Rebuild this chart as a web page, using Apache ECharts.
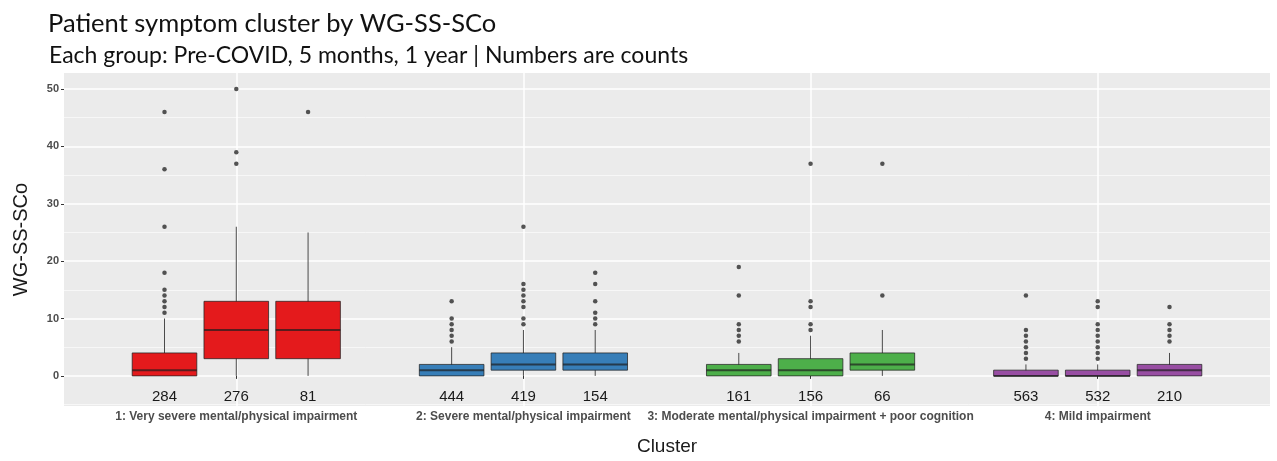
<!DOCTYPE html>
<html>
<head>
<meta charset="utf-8">
<script src="https://cdn.jsdelivr.net/npm/echarts@6/dist/echarts.min.js"></script>
<style>
html,body{margin:0;padding:0;background:#fff;}
#c{width:1277px;height:461px;}
</style>
</head>
<body>
<div id="c"></div>
<script>
// ---- data ----
const clusters = [
  '1: Very severe mental/physical impairment',
  '2: Severe mental/physical impairment',
  '3: Moderate mental/physical impairment + poor cognition',
  '4: Mild impairment'
];
const periods = ['Pre-COVID', '5 months', '1 year'];
// per box, ordered cluster by cluster, each cluster: Pre-COVID, 5 months, 1 year
const whiskerLow  = [0, 0, 0,   0, 0, 0,   0, 0, 0,   0, 0, 0];
const q1          = [0, 3, 3,   0, 1, 1,   0, 0, 1,   0, 0, 0];
const medians     = [1, 8, 8,   1, 2, 2,   1, 1, 2,   0, 0, 1];
const q3          = [4, 13, 13, 2, 4, 4,   2, 3, 4,   1, 1, 2];
const whiskerHigh = [10, 26, 25, 5, 8, 8,  4, 7, 8,   2, 2, 4];
const counts      = [284, 276, 81, 444, 419, 154, 161, 156, 66, 563, 532, 210];
const outliers = [
  [11, 12, 13, 14, 15, 18, 26, 36, 46],
  [37, 39, 50],
  [46],
  [6, 7, 8, 9, 10, 13],
  [9, 10, 12, 13, 14, 15, 16, 26],
  [9, 10, 11, 13, 16, 18],
  [6, 7, 8, 9, 14, 19],
  [8, 9, 12, 13, 37],
  [14, 37],
  [3, 4, 5, 6, 7, 8, 14],
  [3, 4, 5, 6, 7, 8, 9, 12, 13],
  [6, 7, 8, 9, 12]
];
const xTicks = [1, 2, 3, 4];
const yTicks = [0, 10, 20, 30, 40, 50];
const yMinorTicks = [-5, 5, 15, 25, 35, 45];

// ---- styling ----
const clusterColors = ['#E41A1C', '#377EB8', '#4DAF4A', '#984EA3'];
const DODGE = 0.25;
const BOX_W = 0.225;
const COUNT_Y = -3.7;

function boxX(i) {
  const g = Math.floor(i / periods.length) + 1;
  const p = i % periods.length;
  return g + (p - 1) * DODGE;
}

const boxData = counts.map((n, i) => [boxX(i), whiskerLow[i], q1[i], medians[i], q3[i], whiskerHigh[i], Math.floor(i / periods.length)]);
const outlierData = [];
outliers.forEach((arr, i) => arr.forEach(v => outlierData.push([boxX(i), v])));
const countData = counts.map((n, i) => [boxX(i), COUNT_Y, n]);

function renderBox(params, api) {
  const x = api.value(0);
  const lo = api.coord([x, api.value(1)]);
  const b1 = api.coord([x, api.value(2)]);
  const md = api.coord([x, api.value(3)]);
  const b3 = api.coord([x, api.value(4)]);
  const hi = api.coord([x, api.value(5)]);
  const w = api.size([BOX_W, 0])[0];
  const color = clusterColors[api.value(6)];
  return {
    type: 'group',
    children: [
      { type: 'line', shape: { x1: lo[0], y1: lo[1], x2: hi[0], y2: hi[1] },
        style: { stroke: '#4a4a4a', lineWidth: 1 } },
      { type: 'rect', shape: { x: b3[0] - w / 2, y: b3[1], width: w, height: Math.max(b1[1] - b3[1], 1) },
        style: { fill: color, stroke: 'rgba(35,35,35,0.75)', lineWidth: 1 } },
      { type: 'line', shape: { x1: md[0] - w / 2, y1: md[1], x2: md[0] + w / 2, y2: md[1] },
        style: { stroke: 'rgba(30,30,30,0.7)', lineWidth: 2 } }
    ]
  };
}

function renderCount(params, api) {
  const p = api.coord([api.value(0), api.value(1)]);
  return {
    type: 'text',
    x: p[0], y: p[1],
    style: { text: String(api.value(2)), fill: '#1a1a1a', font: '15px "Liberation Sans", Arial, sans-serif',
      align: 'center', verticalAlign: 'middle' }
  };
}

const chart = echarts.init(document.getElementById('c'), null, { renderer: 'canvas' });
chart.setOption({
  backgroundColor: '#ffffff',
  animation: false,
  title: [
    { text: 'Patient symptom cluster by WG-SS-SCo', left: 43, top: 6,
      textStyle: { fontFamily: 'Lato', fontWeight: 'normal', fontSize: 25.5, color: '#111' } },
    { text: 'Each group: Pre-COVID, 5 months, 1 year | Numbers are counts', left: 44, top: 39,
      textStyle: { fontFamily: 'Lato', fontWeight: 'normal', fontSize: 23, color: '#111' } }
  ],
  grid: { left: 64, right: 7, top: 73, bottom: 53, show: true, backgroundColor: '#EBEBEB', borderWidth: 0 },
  xAxis: {
    type: 'value', min: 0.4, max: 4.6,
    name: 'Cluster', nameLocation: 'middle', nameGap: 31,
    nameTextStyle: { fontFamily: 'Liberation Sans', fontSize: 19, color: '#1a1a1a' },
    axisLine: { show: false },
    axisTick: { show: true, customValues: xTicks, length: 3, lineStyle: { color: '#333', width: 1 } },
    axisLabel: { customValues: xTicks, margin: 5,
      formatter: v => clusters[Math.round(v) - 1] || '',
      fontFamily: 'Liberation Sans', fontWeight: 'bold', fontSize: 12, color: '#4d4d4d' },
    splitLine: { show: true, lineStyle: { color: '#ffffff', width: 1.5 } }
  },
  yAxis: [
    {
      type: 'value', min: -5.25, max: 52.8,
      name: 'WG-SS-SCo', nameLocation: 'middle', nameGap: 33,
      nameTextStyle: { fontFamily: 'Liberation Sans', fontSize: 20, color: '#1a1a1a' },
      axisLine: { show: false },
      axisTick: { show: true, customValues: yTicks, length: 3, lineStyle: { color: '#333', width: 1 } },
      axisLabel: { customValues: yTicks, margin: 5,
        fontFamily: 'Liberation Sans', fontWeight: 'bold', fontSize: 11, color: '#4d4d4d' },
      splitLine: { show: true, lineStyle: { color: '#ffffff', width: 1.5 } }
    },
    {
      type: 'value', min: -5.25, max: 52.8, position: 'left',
      axisLine: { show: false },
      axisTick: { show: false, customValues: yMinorTicks },
      axisLabel: { show: false, customValues: yMinorTicks },
      splitLine: { show: true, lineStyle: { color: '#F7F7F7', width: 1 } }
    }
  ],
  series: [
    {
      type: 'custom', name: 'boxes', renderItem: renderBox, data: boxData,
      encode: { x: 0, y: [1, 2, 3, 4, 5] }, z: 3, silent: true, clip: false
    },
    {
      type: 'scatter', name: 'outliers', data: outlierData, symbol: 'circle', symbolSize: 4.5,
      itemStyle: { color: '#2b2b2b' }, z: 4, silent: true
    },
    {
      type: 'custom', name: 'counts', renderItem: renderCount, data: countData,
      encode: { x: 0, y: 1 }, z: 5, silent: true
    }
  ]
});
</script>
</body>
</html>
